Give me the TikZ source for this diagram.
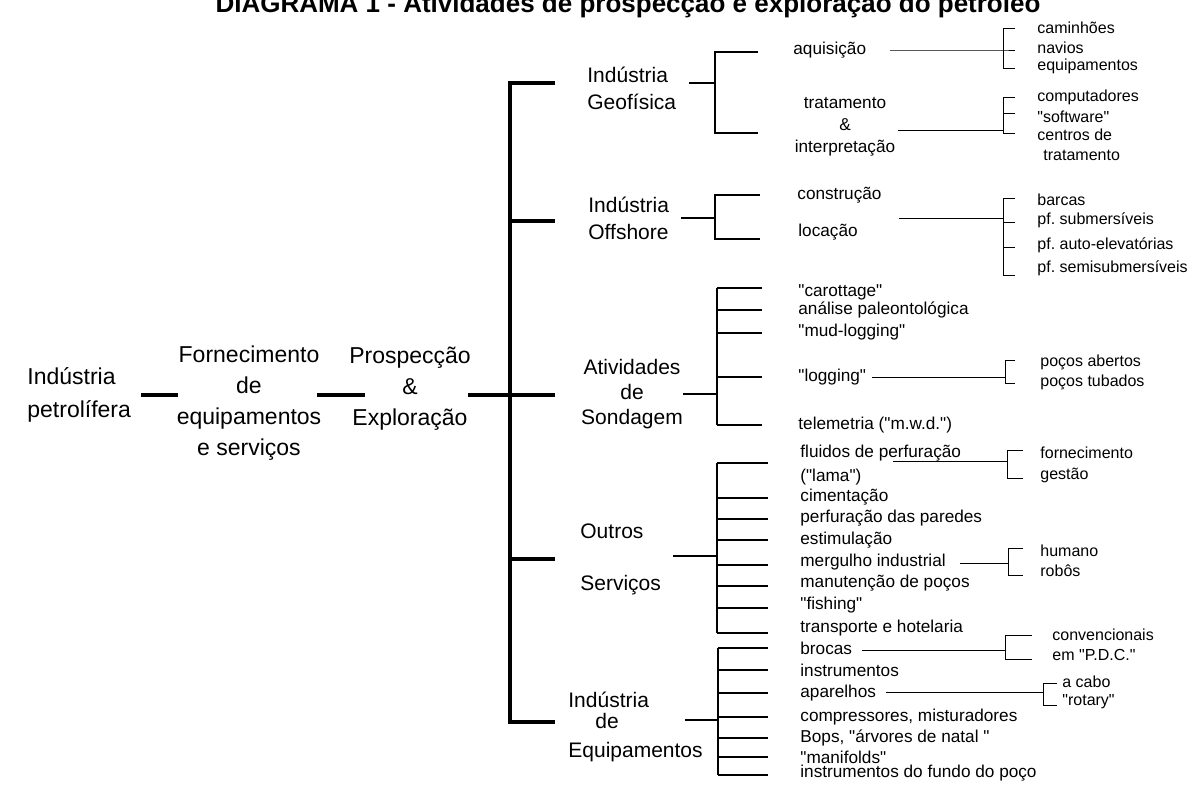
\documentclass[tikz,border=0pt]{standalone}
\usepackage{fontspec}
\setmainfont{Liberation Sans}
\usetikzlibrary{positioning, calc}
\frenchspacing
\newcommand{\qt}[1]{\textquotedbl#1\textquotedbl}

\tikzset{
  big/.style={font=\fontsize{11.5}{15}\selectfont, inner sep=0pt},
  item/.style={font=\fontsize{8.6}{10.5}\selectfont, anchor=west, inner sep=0pt},
  leaf/.style={font=\fontsize{8}{10}\selectfont, anchor=west, inner sep=0pt},
  trunk/.style={line width=1.6pt},
  branch/.style={line width=1.1pt},
  twig/.style={line width=0.5pt},
}

\begin{document}
\begin{tikzpicture}[x=0.5pt, y=-0.5pt]
  \useasboundingbox (0,0) rectangle (1198,787);

  % Title (cut by the top edge)
  \node[font=\bfseries\fontsize{13}{15}\selectfont, anchor=base, inner sep=0pt] (title) at (628,12) {DIAGRAMA 1 - Atividades de prospecção e exploração do petróleo};

  % Chain
  \coordinate (hub) at (510,395);
  \node[big, align=left, anchor=west, font=\fontsize{11.5}{16.5}\selectfont] (root) at (27,395) {Indústria\\petrolífera};
  \node[big, align=center, font=\fontsize{11.5}{15.5}\selectfont] (forn) at (249,403) {Fornecimento\\de\\equipamentos\\e serviços};
  \node[big, align=center, font=\fontsize{11.5}{15.5}\selectfont] (pros) at (410,389) {Prospecção\\\&\\Exploração};
  \draw[trunk] ([xshift=5pt]hub -| root.east) -- ([xshift=1pt]hub -| forn.west);
  \draw[trunk] ([xshift=-2.5pt]hub -| forn.east) -- ([xshift=8pt]hub -| pros.west);
  \draw[trunk] ([xshift=-1.5pt]hub -| pros.east) -- (hub);

  % Main bar
  \draw[trunk] (555,83) -- (510,83) -- (510,722) -- (555,722);
  \foreach \y in {221,395,559} \draw[trunk] (510,\y) -- (555,\y);

  % Industria Geofisica
  \node[big, align=left, anchor=west, font=\fontsize{10.5}{13.5}\selectfont] (geo) at (587,88) {Indústria\\Geofísica};
  \coordinate (geoj) at (715,83);
  \draw[branch] ([xshift=6pt]geoj -| geo.east) -- (geoj);
  \draw[branch] (758,52) -| (715,133) -- (758,133);
  \node[item] (aq) at (793,50) {aquisição};
  \node[item, anchor=center, align=center, font=\fontsize{8.6}{11}\selectfont] (trat) at (845,127) {tratamento\\\&\\interpretação};
  \coordinate (aqj) at (1003,50);
  \draw[twig] ([xshift=12pt]aqj -| aq.east) -- (aqj) -- ++(12,0);
  \draw[twig] (1015,28) -| (1003,68) -- (1015,68);
  \foreach \t/\y [count=\i] in {caminhões/28, navios/48, equipamentos/66}
    \node[leaf] (aq\i) at (1037,\y) {\t};
  \coordinate (tratj) at (1003,130);
  \draw[twig] ([xshift=1pt]tratj -| trat.east) -- (tratj);
  \draw[twig] (1015,97) -| (1003,133) -- (1015,133);
  \draw[twig] (1003,113) -- (1015,113);
  \foreach \t/\y [count=\i] in {computadores/97, \qt{software}/117, centros de/135}
    \node[leaf] (trat\i) at (1037,\y) {\t};
  \node[leaf] (trat4) at (1043,155) {tratamento};

  % Industria Offshore
  \node[big, align=left, anchor=west, font=\fontsize{10.5}{13.5}\selectfont] (off) at (588,218) {Indústria\\Offshore};
  \coordinate (offj) at (715,218);
  \draw[branch] ([xshift=6pt]offj -| off.east) -- (offj);
  \draw[branch] (760,195) -| (715,239) -- (760,239);
  \node[item] (con) at (797,195) {construção};
  \node[item] (loc) at (798,232) {locação};
  \coordinate (locj) at (1003,218);
  \draw[twig] ([xshift=8.5pt]locj -| con.east) -- (locj);
  \draw[twig] (1015,198) -| (1003,275) -- (1015,275);
  \foreach \y in {222,247} \draw[twig] (1003,\y) -- (1015,\y);
  \foreach \t/\y [count=\i] in {barcas/200, pf. submersíveis/220, pf. auto-elevatórias/245, pf. semisubmersíveis/268}
    \node[leaf] (loc\i) at (1037,\y) {\t};

  % Atividades de Sondagem
  \node[big, align=center, font=\fontsize{10.5}{12.5}\selectfont] (sond) at (632,394) {Atividades\\de\\Sondagem};
  \coordinate (sondj) at (717,394);
  \draw[branch] (sondj -| sond.east) -- (sondj);
  \draw[branch] (717,288) -- (717,425);
  \foreach \y in {288,310,333,377,425} \draw[branch] (717,\y) -- (762,\y);
  \foreach \t/\y [count=\i] in {\qt{carottage}/292, análise paleontológica/310, \qt{mud-logging}/332, \qt{logging}/377, {telemetria (\qt{m.w.d.})}/425}
    \node[item] (sond\i) at (798,\y) {\t};
  \coordinate (logj) at (1005,377);
  \draw[twig] ([xshift=3pt]logj -| sond4.east) -- (logj);
  \draw[twig] (1015,360) -| (1005,383) -- (1015,383);
  \foreach \t/\y [count=\i] in {poços abertos/362, poços tubados/382}
    \node[leaf] (log\i) at (1040,\y) {\t};

  % Outros Servicos
  \node[big, align=left, anchor=west, font=\fontsize{10.5}{26}\selectfont] (serv) at (580,559) {Outros\\Serviços};
  \coordinate (servj) at (717,556);
  \draw[branch] ([xshift=6pt]servj -| serv.east) -- (servj);
  \draw[branch] (717,463) -- (717,633);
  \foreach \y in {463,498,519,540,565,586,608,633} \draw[branch] (717,\y) -- (768,\y);
  \foreach \t/\y [count=\i] in {fluidos de perfuração/453, {(\qt{lama})}/477, cimentação/497, perfuração das paredes/518, estimulação/540, mergulho industrial/562, manutenção de poços/583, \qt{fishing}/605, transporte e hotelaria/628}
    \node[item] (serv\i) at (800,\y) {\t};
  \coordinate (fluj) at (1007,461);
  \draw[twig] ([xshift=-34pt]fluj -| serv1.east) -- (fluj);
  \draw[twig] (1023,450) -| (1007,478) -- (1023,478);
  \foreach \t/\y [count=\i] in {fornecimento/453, gestão/475}
    \node[leaf] (flu\i) at (1040,\y) {\t};
  \coordinate (merj) at (1008,563);
  \draw[twig] ([xshift=7pt]merj -| serv6.east) -- (merj);
  \draw[twig] (1023,548) -| (1008,575) -- (1023,575);
  \foreach \t/\y [count=\i] in {humano/551, robôs/571}
    \node[leaf] (mer\i) at (1040,\y) {\t};

  % Industria de Equipamentos
  \node[big, align=left, anchor=west, font=\fontsize{10.5}{12.5}\selectfont] (equip) at (568,727) {Indústria\\[-2pt]\hspace*{13.5pt}de\\[2pt]Equipamentos};
  \coordinate (equipj) at (718,720);
  \draw[branch] ([xshift=-9pt]equipj -| equip.east) -- (equipj);
  \draw[branch] (718,648) -- (718,775);
  \foreach \y in {648,670,693,717,738,757,775} \draw[branch] (718,\y) -- (768,\y);
  \foreach \t/\y [count=\i] in {brocas/648, instrumentos/670, aparelhos/693, {compressores, misturadores}/717, {Bops, \qt{árvores de natal\ }}/738, \qt{manifolds}/757, instrumentos do fundo do poço/773}
    \node[item] (eq\i) at (800,\y) {\t};
  \coordinate (broj) at (1005,650);
  \draw[twig] ([xshift=5pt]broj -| eq1.east) -- (broj);
  \draw[twig] (1032,635) -| (1005,659) -- (1032,659);
  \foreach \t/\y [count=\i] in {convencionais/635, em \qt{P.D.C.}/655}
    \node[leaf] (bro\i) at (1052,\y) {\t};
  \coordinate (apaj) at (1043,692);
  \draw[twig] ([xshift=5pt]apaj -| eq3.east) -- (apaj);
  \draw[twig] (1057,683) -| (1043,705) -- (1057,705);
  \foreach \t/\y [count=\i] in {a cabo/682, \qt{rotary}/702}
    \node[leaf] (apa\i) at (1062,\y) {\t};
\end{tikzpicture}
\end{document}
